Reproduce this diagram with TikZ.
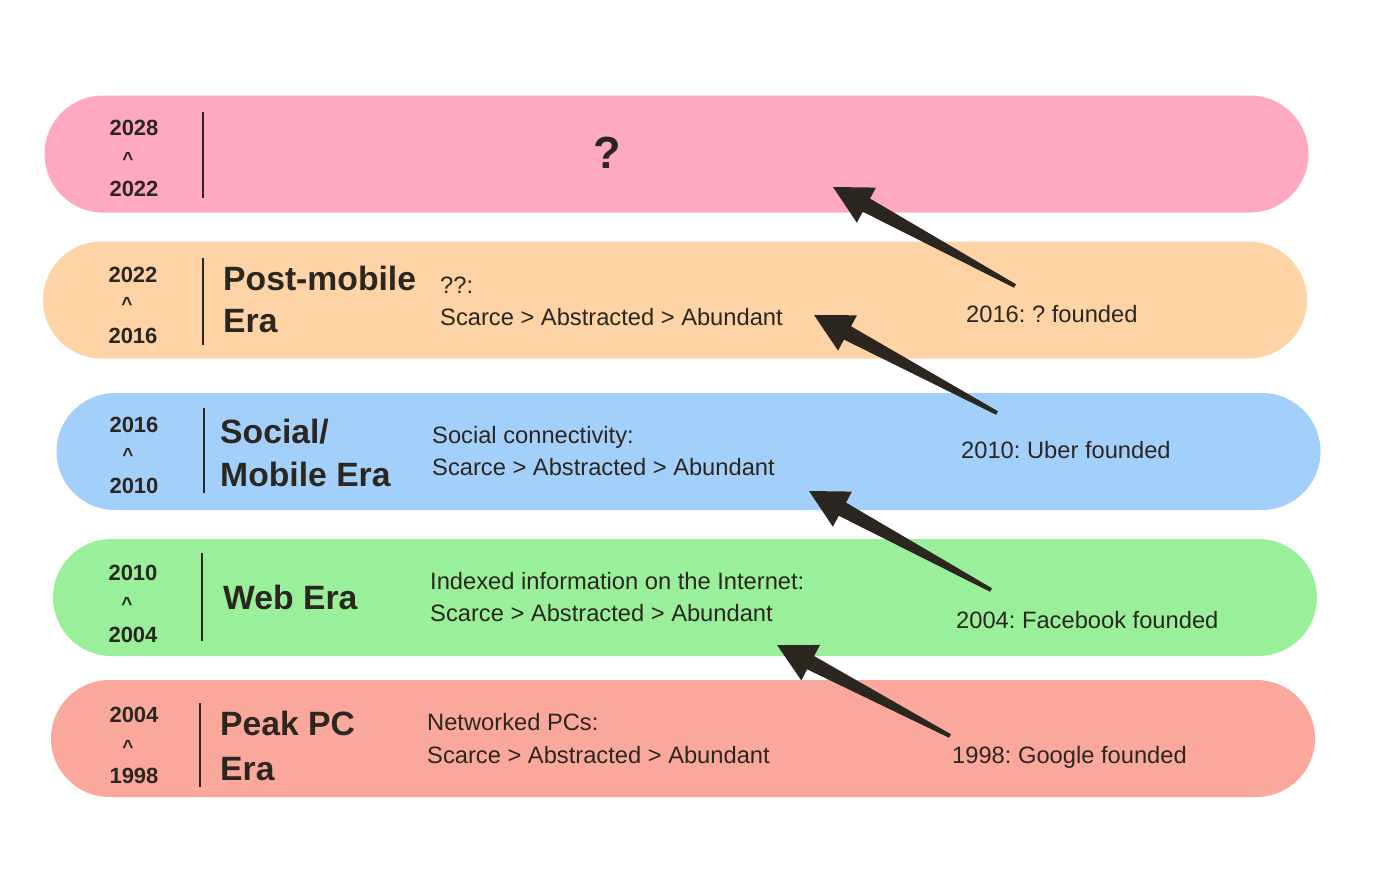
\documentclass[tikz,border=0pt]{standalone}
\usepackage{fontspec}
\setmainfont{Liberation Sans}
\usetikzlibrary{calc}
\frenchspacing

\definecolor{ink}{HTML}{2B2620}
\definecolor{bandpink}{RGB}{255,168,193}
\definecolor{bandpeach}{RGB}{254,211,166}
\definecolor{bandblue}{RGB}{163,208,251}
\definecolor{bandgreen}{RGB}{154,240,154}
\definecolor{bandsalmon}{RGB}{250,168,155}

\newcommand\yearfont{\fontsize{22}{26}\selectfont\bfseries}
\newcommand\caretfont{\fontsize{19}{22}\selectfont\bfseries}
\newcommand\erafont{\fontsize{33.7}{38}\selectfont\bfseries}
\newcommand\bodyfont{\fontsize{23.7}{27}\selectfont}
\newcommand\bigqfont{\fontsize{45}{50}\selectfont\bfseries}

% tapered arrow from tail #2 to tip #1
\newcommand\taperarrow[2]{%
  \fill[ink] (#1)
    -- ($(#1)!38pt!(#2)!20pt!90:(#2)$)
    -- ($(#1)!38pt!(#2)!7.5pt!90:(#2)$)
    -- ($(#2)!2pt!-90:(#1)$)
    -- ($(#2)!2pt!90:(#1)$)
    -- ($(#1)!38pt!(#2)!7.5pt!-90:(#2)$)
    -- ($(#1)!38pt!(#2)!20pt!-90:(#2)$)
    -- cycle;}

\tikzset{
  band/.style={rectangle, rounded corners=58.5pt, minimum width=1264pt,
    minimum height=117pt, inner sep=0pt, draw=none},
  yr/.style={font=\yearfont, text=ink, anchor=base, inner sep=0pt},
  caret/.style={font=\caretfont, text=ink, anchor=base, inner sep=0pt},
  era/.style={font=\erafont, text=ink, anchor=base west, inner sep=0pt},
  body/.style={font=\bodyfont, text=ink, anchor=base west, inner sep=0pt},
  divider/.style={draw=ink, line width=2pt},
}

\begin{document}
\begin{tikzpicture}[x=1pt, y=-1pt]
\useasboundingbox (0,0) rectangle (1400,881);

% era bands
\node[band, fill=bandpink]   (b1) at (676.5,154) {};
\node[band, fill=bandpeach]  (b2) at (675,300) {};
\node[band, fill=bandblue]   (b3) at (688.5,451.5) {};
\node[band, fill=bandgreen]  (b4) at (685,597.5) {};
\node[band, fill=bandsalmon] (b5) at (683,738.5) {};

% year ranges
\node[yr] (y1a) at (134,135) {2028};
\node[caret] (c1) at (128,165) {\textasciicircum};
\node[yr] (y1b) at (134,196) {2022};

\node[yr] (y2a) at (133,282) {2022};
\node[caret] (c2) at (127,310) {\textasciicircum};
\node[yr] (y2b) at (133,343) {2016};

\node[yr] (y3a) at (134,432) {2016};
\node[caret] (c3) at (128,461) {\textasciicircum};
\node[yr] (y3b) at (134,493) {2010};

\node[yr] (y4a) at (133,580) {2010};
\node[caret] (c4) at (127,610) {\textasciicircum};
\node[yr] (y4b) at (133,642) {2004};

\node[yr] (y5a) at (134,722) {2004};
\node[caret] (c5) at (128,753) {\textasciicircum};
\node[yr] (y5b) at (134,783) {1998};

% dividers
\draw[divider] (203,112) -- (203,198);
\draw[divider] (203,258) -- (203,345);
\draw[divider] (203.5,408) -- (203.5,493);
\draw[divider] (201.5,553) -- (201.5,641);
\draw[divider, line width=2.6pt] (200,703) -- (200,787);

% era names
\node[era] (e2a) at (223,290) {Post-mobile};
\node[era] (e2b) at (223,332) {Era};
\node[era] (e3a) at (220,443) {Social/};
\node[era] (e3b) at (220,486) {Mobile Era};
\node[era] (e4)  at (223,609) {Web Era};
\node[era] (e5a) at (220,735) {Peak PC};
\node[era] (e5b) at (220,780) {Era};

% descriptions
\node[font=\bigqfont, text=ink, inner sep=0pt] (q) at (607,153) {?};

\node[body] (d2a) at (440,293) {??:};
\node[body] (d2b) at (440,325) {Scarce > Abstracted > Abundant};
\node[body] (d3a) at (432,443) {Social connectivity:};
\node[body] (d3b) at (432,475) {Scarce > Abstracted > Abundant};
\node[body] (d4a) at (430,589) {Indexed information on the Internet:};
\node[body] (d4b) at (430,621) {Scarce > Abstracted > Abundant};
\node[body] (d5a) at (427,730) {Networked PCs:};
\node[body] (d5b) at (427,763) {Scarce > Abstracted > Abundant};

% company milestones
\node[body] (m2) at (966,322) {2016: ? founded};
\node[body] (m3) at (961,458) {2010: Uber founded};
\node[body] (m4) at (956,628) {2004: Facebook founded};
\node[body] (m5) at (952,763) {1998: Google founded};

% arrow ends
\coordinate (tip1) at (777,645);  \coordinate (tail1) at (950,736);
\coordinate (tip2) at (809,491);  \coordinate (tail2) at (991,590);
\coordinate (tip3) at (814,315);  \coordinate (tail3) at (997,413);
\coordinate (tip4) at (833,187);  \coordinate (tail4) at (1015,286);

\taperarrow{tip1}{tail1}
\taperarrow{tip2}{tail2}
\taperarrow{tip3}{tail3}
\taperarrow{tip4}{tail4}
\end{tikzpicture}
\end{document}
